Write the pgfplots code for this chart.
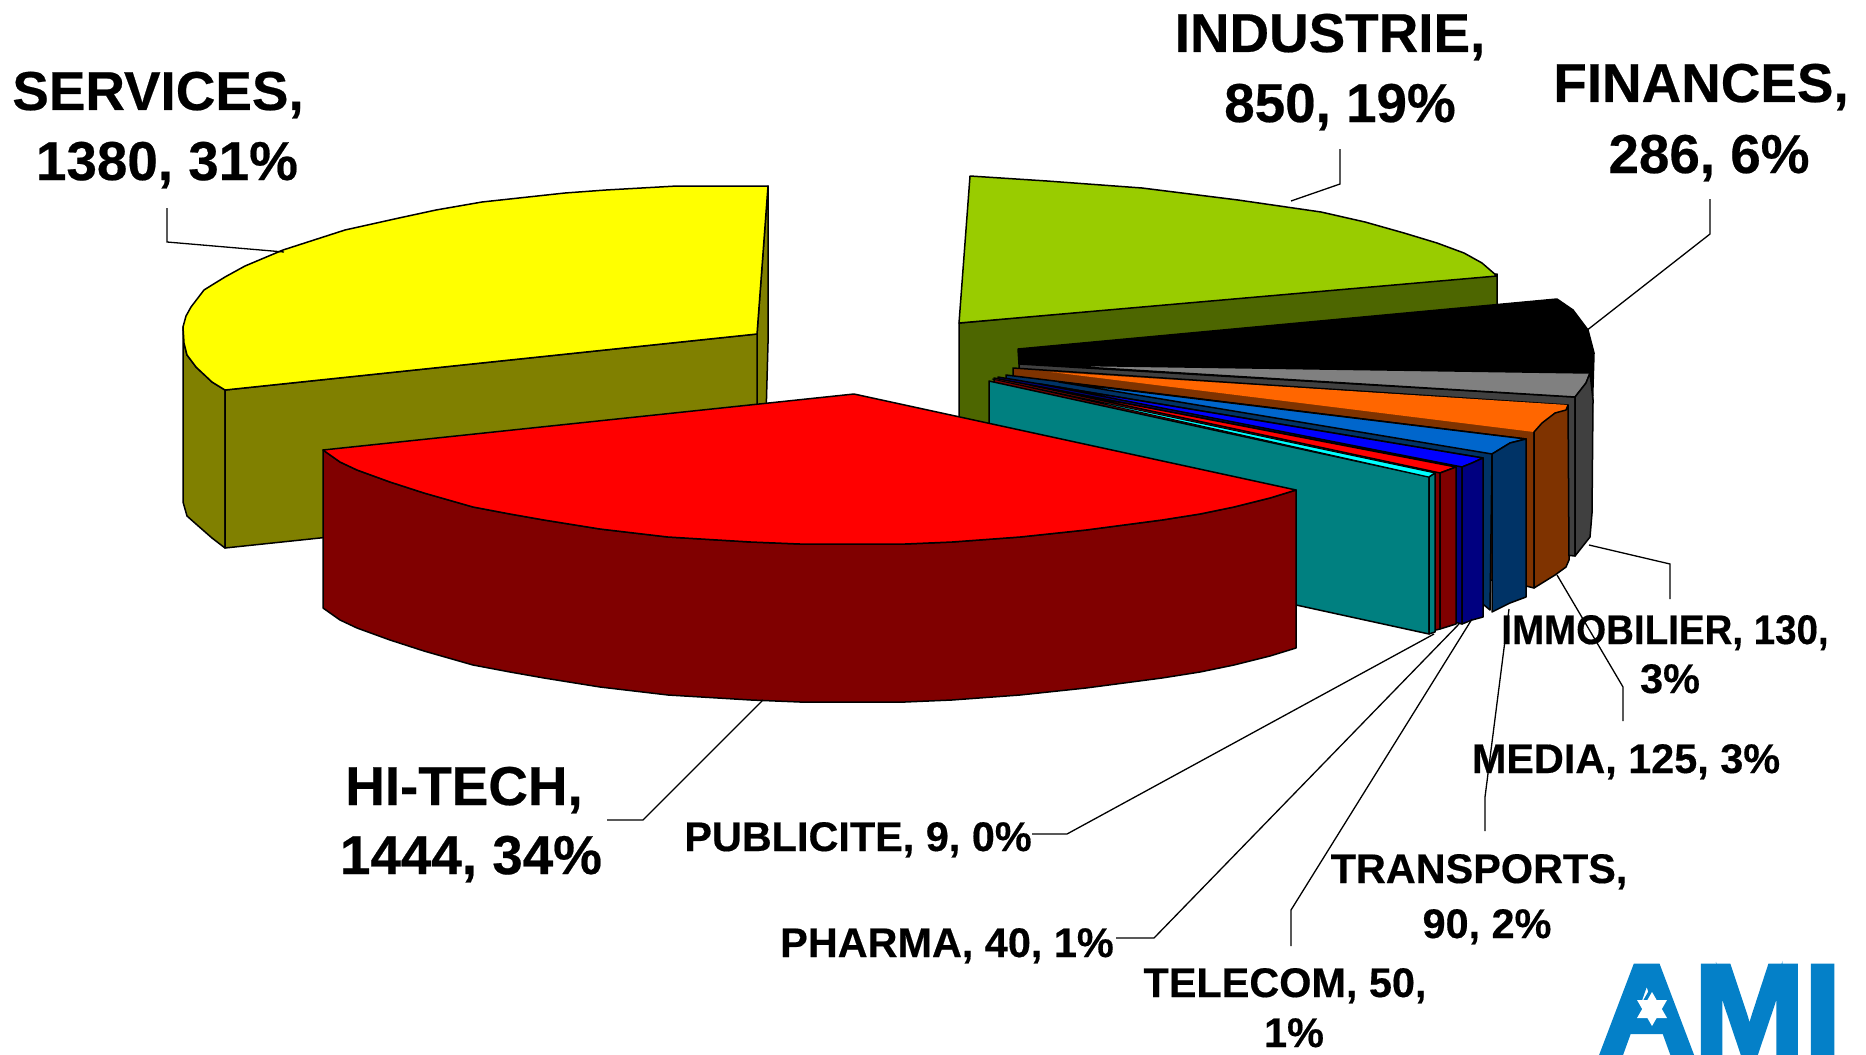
\documentclass[border=0pt]{standalone}
\usepackage{fontspec}
\setmainfont{Liberation Sans}[BoldFeatures={FakeBold=0.4}]
\newfontfamily\logofont{Liberation Sans Bold}[FakeBold=3.5]
\usepackage{pgfplots}
\pgfplotsset{compat=1.18}
\definecolor{yel}{HTML}{FFFF00}\definecolor{yeld}{HTML}{808000}
\definecolor{gre}{HTML}{99CC00}\definecolor{gred}{HTML}{4D6600}
\definecolor{red1}{HTML}{FF0000}\definecolor{redd}{HTML}{800000}
\definecolor{gry}{HTML}{808080}\definecolor{gryd}{HTML}{404040}
\definecolor{ora}{HTML}{FF6600}\definecolor{orad}{HTML}{7F3300}
\definecolor{blu}{HTML}{0066CC}\definecolor{blud}{HTML}{003366}
\definecolor{pur}{HTML}{0000FF}\definecolor{purd}{HTML}{000080}
\definecolor{cya}{HTML}{00FFFF}\definecolor{tea}{HTML}{008080}
\definecolor{logoblue}{HTML}{0480C8}
\tikzset{big/.style={anchor=base,font=\fontsize{27.4}{30}\selectfont\bfseries,inner sep=0pt},
small/.style={anchor=base,font=\fontsize{20.7}{23}\selectfont\bfseries,inner sep=0pt}}
\pgfplotsset{sl/.style={draw=black,line width=0.75pt,line join=round,fill=#1,no marks},
lead/.style={draw=black,line width=0.65pt,no marks}}
\begin{document}
\begin{tikzpicture}
\begin{axis}[name=ax,at={(0,0)},anchor=south west,width=933pt,height=527pt,scale only axis,
 xmin=0,xmax=1866,ymin=0,ymax=1054,y dir=reverse,hide axis]
% SERVICES
\addplot[sl=yeld] coordinates {(768,186)(768,343)(764,490)(757,492)(757,334)} -- cycle;
\addplot[sl=yeld] coordinates {(183,327)(183,502)(187,516)(196,524)(212,538)(225,548)(225,390)(212,382)(196,367)(187,355)(184,343)} -- cycle;
\addplot[sl=yeld] coordinates {(225,390)(757,334)(757,492)(225,548)} -- cycle;
\addplot[sl=yel] coordinates {(768,186)(757,334)(225,390)(212,382)(196,367)(187,355)(184,343)(183,327)(186,316)(191,307)(204,290)(212,285)(225,277)(245,266)(283,250)(345,230)(399,218)(436,210)(482,202)(565,193)(606,190)(677,186)} -- cycle;
% INDUSTRIE
\addplot[sl=gred] coordinates {(959,323)(1497,274)(1497,432)(959,480)} -- cycle;
\addplot[sl=gre] coordinates {(970,176)(1047,181)(1142,188)(1238,200)(1321,212)(1365,222)(1404,233)(1437,243)(1464,253)(1482,263)(1497,276)(959,323)} -- cycle;
% FINANCES
\addplot[sl=black] coordinates {(1018,349)(1557,299)(1573,310)(1588,330)(1594,353)(1592,420)(1590,373)(1019,364)} -- cycle;
% IMMOBILIER
\addplot[sl=gryd] coordinates {(1019,364)(1575,397)(1575,556)(1019,500)} -- cycle;
\addplot[sl=gry] coordinates {(1050,365)(1590,373)(1586,383)(1575,397)} -- cycle;
\addplot[sl=gryd] coordinates {(1590,373)(1593,400)(1592,513)(1590,537)(1575,556)(1575,397)(1586,383)} -- cycle;
% MEDIA
\addplot[sl=orad] coordinates {(1013,368)(1568,405)(1566,410)(1534,432)(1534,588)(1526,586)(1013,500)} -- cycle;
\addplot[fill=ora,draw=none,no marks] coordinates {(1051,372)(1568,405)(1566,410)(1555,413)(1542,423)(1534,432)} -- cycle;
\addplot[sl=orad] coordinates {(1534,432)(1542,423)(1555,413)(1566,410)(1568,405)(1569,560)(1566,567)(1555,575)(1534,588)} -- cycle;
% TRANSPORTS
\addplot[sl=blud] coordinates {(1006,375)(1526,439)(1492,454)(1490,610)(1484,605)(1006,500)} -- cycle;
\addplot[sl=blu] coordinates {(1059,382)(1526,439)(1510,443)(1492,454)} -- cycle;
\addplot[sl=blud] coordinates {(1492,454)(1510,443)(1526,439)(1526,597)(1510,603)(1492,612)} -- cycle;
% TELECOM
\addplot[sl=purd] coordinates {(998,377)(1483,458)(1462,467)(1462,624)(1458,623)(998,520)} -- cycle;
\addplot[sl=pur] coordinates {(1040,384)(1483,458)(1472,463)(1462,467)} -- cycle;
\addplot[sl=purd] coordinates {(1462,467)(1472,463)(1483,458)(1483,617)(1472,620)(1462,624)} -- cycle;
% PHARMA
\addplot[sl=redd] coordinates {(994,378)(1456,467)(1440,473)(1440,629)(1436,630)(994,530)} -- cycle;
\addplot[sl=red1] coordinates {(1030,385)(1456,467)(1440,473)} -- cycle;
\addplot[sl=redd] coordinates {(1440,473)(1456,467)(1456,624)(1440,629)} -- cycle;
% PUBLICITE
\addplot[sl=tea] coordinates {(989,381)(1429,477)(1429,634)(989,538)} -- cycle;
\addplot[draw=black,line width=0.5pt,fill=cya,no marks] coordinates {(992,379)(1435,473)(1429,477)} -- cycle;
\addplot[sl=tea] coordinates {(1429,477)(1435,473)(1435,632)(1429,634)} -- cycle;
% HI-TECH
\addplot[sl=redd] coordinates {(323,450)(340,462)(357,470)(390,482)(424,493)(473,507)(510,514)(544,520)(600,529)(668,537)(751,542)(800,544)(857,544)(905,544)(952,542)(1020,537)(1086,530)(1162,520)(1200,514)(1234,507)(1270,498)(1296,490)(1296,648)(1270,656)(1234,665)(1200,672)(1162,678)(1086,688)(1020,695)(952,700)(905,702)(857,702)(800,702)(751,700)(668,695)(600,687)(544,678)(510,672)(473,665)(424,651)(390,640)(357,628)(340,620)(323,608)} -- cycle;
\addplot[sl=red1] coordinates {(854,394)(1296,490)(1270,498)(1234,507)(1200,514)(1162,520)(1086,530)(1020,537)(952,542)(905,544)(857,544)(800,544)(751,542)(668,537)(600,529)(544,520)(510,514)(473,507)(424,493)(390,482)(357,470)(340,462)(323,450)} -- cycle;
% leader lines
\addplot[lead] coordinates {(167,208)(167,242)(284,252)};
\addplot[lead] coordinates {(1340,149)(1340,184)(1291,201)};
\addplot[lead] coordinates {(1710,199)(1710,234)(1586,331)};
\addplot[lead] coordinates {(1589,545)(1670,564)(1670,599)};
\addplot[lead] coordinates {(1557,575)(1623,687)(1623,721)};
\addplot[lead] coordinates {(1509,609)(1485,797)(1485,831)};
\addplot[lead] coordinates {(1472,619)(1291,910)(1291,946)};
\addplot[lead] coordinates {(1459,624)(1154,938)(1116,938)};
\addplot[lead] coordinates {(1434,634)(1067,834)(1032,834)};
\addplot[lead] coordinates {(763,700)(643,820)(607,820)};
% labels
\node[big] at (axis cs:158,110) {SERVICES,};
\node[big] at (axis cs:167,180) {1380, 31\%};
\node[big] at (axis cs:1330,52) {INDUSTRIE,};
\node[big] at (axis cs:1340,122) {850, 19\%};
\node[big] at (axis cs:1701,102) {FINANCES,};
\node[big] at (axis cs:1709,173) {286, 6\%};
\node[big] at (axis cs:464,805) {HI-TECH,};
\node[big] at (axis cs:471,874) {1444, 34\%};
\node[small] at (axis cs:1665,644) {\scalebox{0.93}[1]{IMMOBILIER, 130,}};
\node[small] at (axis cs:1670,693) {3\%};
\node[small] at (axis cs:1626,773) {MEDIA, 125, 3\%};
\node[small] at (axis cs:1479,883) {TRANSPORTS,};
\node[small] at (axis cs:1487,938) {90, 2\%};
\node[small] at (axis cs:1285,997) {TELECOM, 50,};
\node[small] at (axis cs:1294,1047) {1\%};
\node[small] at (axis cs:947,957) {PHARMA, 40, 1\%};
\node[small] at (axis cs:858,851) {PUBLICITE, 9, 0\%};
% logo
\node[anchor=base,inner sep=0pt,text=logoblue,font=\fontsize{66}{70}\logofont] at (axis cs:1720,1053) {\scalebox{1}[0.96]{AMI}};
\fill[logoblue] (axis cs:1652,985) -- (axis cs:1680,1034) -- (axis cs:1624,1034) -- cycle;
\fill[white] (axis cs:1652,992) -- (axis cs:1667,1018) -- (axis cs:1637,1018) -- cycle;
\fill[white] (axis cs:1652,1026) -- (axis cs:1637,1000) -- (axis cs:1667,1000) -- cycle;
\end{axis}
\pgfresetboundingbox
\path[use as bounding box] (ax.south west) rectangle (ax.north east);
\end{tikzpicture}
\end{document}
